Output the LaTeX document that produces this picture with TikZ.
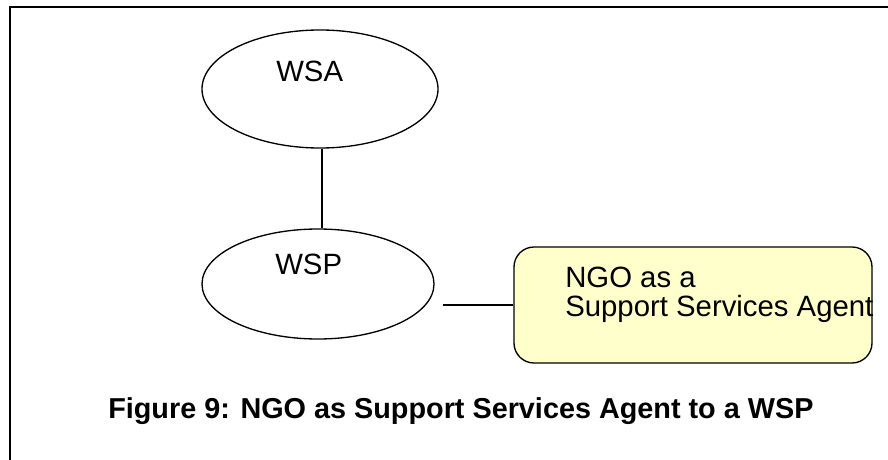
\documentclass[tikz,border=0pt]{standalone}
\usepackage{fontspec}
\setmainfont{Liberation Sans}
\usetikzlibrary{shapes.geometric}
\definecolor{notefill}{HTML}{FFFFCC}
\begin{document}
\begin{tikzpicture}[x=0.75pt,y=-0.75pt,
  bubble/.style={ellipse,draw,line width=1pt,inner sep=0pt},
  agentbox/.style={draw,line width=1pt,rounded corners=15pt,fill=notefill,
    minimum width=268.5pt,minimum height=87pt,inner sep=0pt},
  label/.style={inner sep=0pt,anchor=base west,font=\fontsize{22pt}{26pt}\selectfont},
  link/.style={line width=0.8pt}]
\useasboundingbox (0,0) rectangle (888,460);
% frame edges
\draw[line width=1.6pt] (10,460) -- (10,7) -- (888,7);
% entities
\node[bubble,minimum width=177pt,minimum height=88.5pt] (wsa) at (320,89) {};
\node[bubble,minimum width=174pt,minimum height=82.5pt] (wsp) at (318,284) {};
\node[agentbox] (ngo) at (693,305) {};
% texts
\node[label] (wsatext) at (276,82) {WSA};
\node[label] (wsptext) at (275,274) {WSP};
\node[label] (ngotext1) at (565,287) {NGO as a};
\node[label] (ngotext2) at (565,316) {Support Services Agent};
\node[label,font=\fontsize{21.6pt}{26pt}\selectfont\bfseries] (caption) at (108,418)
  {Figure 9: NGO as Support Services Agent to a WSP};
% connectors
\coordinate (wspout) at ([xshift=6pt]wsp.east |- ngo.west);
\draw[link] ([xshift=1.5pt]wsa.south) -- ([xshift=1.5pt]wsa.south |- wsp.north);
\draw[link] (wspout) -- (ngo.west);
\end{tikzpicture}
\end{document}
